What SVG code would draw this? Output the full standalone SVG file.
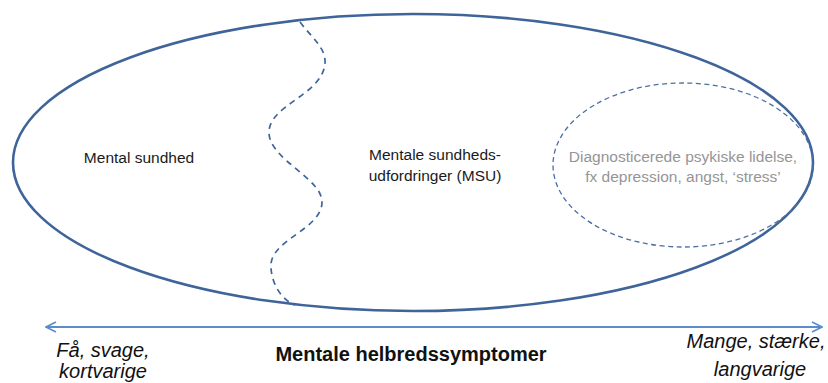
<svg xmlns="http://www.w3.org/2000/svg" width="828" height="383" viewBox="0 0 828 383">
<style>
.lbl{font-family:"Liberation Sans",Arial,sans-serif;font-size:15.5px;fill:#1a1a1a;text-anchor:middle}
.gray{fill:#959595}
.end{font-family:"Liberation Sans",Arial,sans-serif;font-size:20px;font-style:italic;fill:#111;text-anchor:middle}
.title{font-family:"Liberation Sans",Arial,sans-serif;font-size:20px;font-weight:bold;fill:#111;text-anchor:middle}
</style>
<defs>
<marker id="chev" viewBox="0 0 12 12" refX="11" refY="6" markerWidth="12" markerHeight="12" markerUnits="userSpaceOnUse" orient="auto-start-reverse">
<path d="M1,1 L11,6 L1,11" fill="none" stroke="#5b8dcc" stroke-width="1.6"/>
</marker>
</defs>
<rect width="828" height="383" fill="#fff"/>
<g id="outer">
<ellipse cx="413" cy="162.5" rx="400" ry="148.5" fill="none" stroke="#3e6499" stroke-width="2.6"/>
</g>
<g id="divider">
<path d="M300,22 C312,38 326,48 325,63 C323,95 268,105 269,133 C270,160 322,178 322,202 C322,230 268,240 271,268 C272,285 282,300 295,305" fill="none" stroke="#3e6499" stroke-width="1.7" stroke-dasharray="6,5"/>
</g>
<g id="diagnosed">
<ellipse cx="683" cy="165" rx="130" ry="82" fill="none" stroke="#4a6fa3" stroke-width="1.3" stroke-dasharray="5,3.5"/>
<text class="lbl gray" x="683" y="162">Diagnosticerede psykiske lidelse,</text>
<text class="lbl gray" x="683" y="182">fx depression, angst, ‘stress’</text>
</g>
<g id="mental-health">
<text class="lbl" x="139" y="163">Mental sundhed</text>
</g>
<g id="msu">
<text class="lbl" x="435" y="160">Mentale sundheds-</text>
<text class="lbl" x="435" y="181">udfordringer (MSU)</text>
</g>
<g id="connectors">
<line x1="46" y1="327" x2="822" y2="327" stroke="#5b8dcc" stroke-width="1.8" marker-start="url(#chev)" marker-end="url(#chev)"/>
</g>
<g id="axis-labels">
<text class="title" x="411" y="361">Mentale helbredssymptomer</text>
<text class="end" x="103" y="357">Få, svage,</text>
<text class="end" x="103" y="378">kortvarige</text>
<text class="end" x="756" y="348">Mange, stærke,</text>
<text class="end" x="760" y="376">langvarige</text>
</g>
</svg>
